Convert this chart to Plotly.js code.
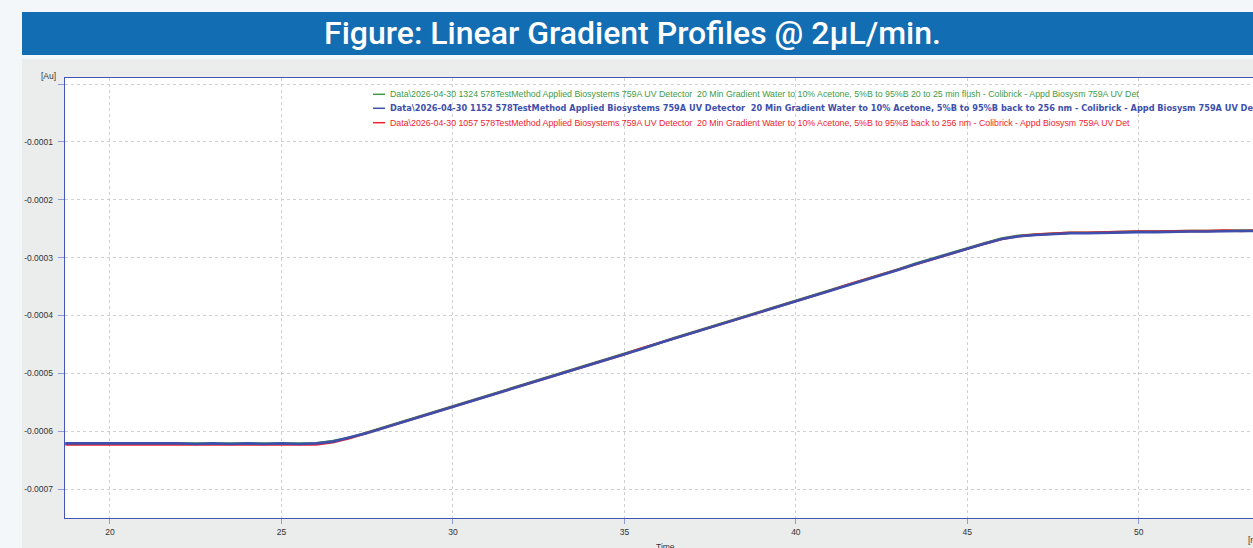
<!DOCTYPE html>
<html>
<head>
<meta charset="utf-8">
<script src="https://cdn.plot.ly/plotly-3.0.1.min.js"></script>
<style>html,body{margin:0;padding:0;background:#f4f7fa;}#chart{width:1253px;height:548px;}</style>
</head>
<body>
<div id="chart"></div>
<script>
// ---- data ----
const chartTitle = "Figure: Linear Gradient Profiles @ 2μL/min.";
const xTitle = "Time";
const xUnit = "[min]";
const yUnit = "[Au]";
const xTickVals = [20, 25, 30, 35, 40, 45, 50];
const yTickVals = [-0.0007, -0.0006, -0.0005, -0.0004, -0.0003, -0.0002, -0.0001, 0];
const yTickText = ["-0.0007", "-0.0006", "-0.0005", "-0.0004", "-0.0003", "-0.0002", "-0.0001", ""];

const seriesNames = [
  "Data\\2026-04-30 1324 578TestMethod Applied Biosystems 759A UV Detector  20 Min Gradient Water to 10% Acetone, 5%B to 95%B 20 to 25 min flush - Colibrick - Appd Biosysm 759A UV Det",
  "Data\\2026-04-30 1152 578TestMethod Applied Biosystems 759A UV Detector  20 Min Gradient Water to 10% Acetone, 5%B to 95%B back to 256 nm - Colibrick - Appd Biosysm 759A UV Det",
  "Data\\2026-04-30 1057 578TestMethod Applied Biosystems 759A UV Detector  20 Min Gradient Water to 10% Acetone, 5%B to 95%B back to 256 nm - Colibrick - Appd Biosysm 759A UV Det"
];
const seriesColors = ["#3f9a45", "#3e4fab", "#f0222b"];

const time = [18.7, 19.0, 19.5, 20.0, 20.5, 21.0, 21.5, 22.0, 22.5, 23.0, 23.5, 24.0, 24.5, 25.0, 25.5, 26.0, 26.5, 27.0, 27.5, 28.0,
  28.5, 29.0, 29.5, 30.0, 30.5, 31.0, 31.5, 32.0, 32.5, 33.0, 33.5, 34.0, 34.5, 35.0, 35.5, 36.0, 36.5, 37.0, 37.5, 38.0,
  38.5, 39.0, 39.5, 40.0, 40.5, 41.0, 41.5, 42.0, 42.5, 43.0, 43.5, 44.0, 44.5, 45.0, 45.5, 46.0, 46.5, 47.0, 47.5, 48.0,
  48.5, 49.0, 49.5, 50.0, 50.5, 51.0, 51.5, 52.0, 52.5, 53.0, 53.5];

const greenAu = [-0.000621, -0.000622, -0.000621, -0.000621, -0.000622, -0.000621, -0.000622, -0.000621, -0.000622, -0.000622, -0.000621, -0.000622, -0.000621, -0.000622, -0.000621, -0.000621, -0.000617, -0.000611, -0.000602, -0.000593,
  -0.000584, -0.000575, -0.000566, -0.000557, -0.000548, -0.000539, -0.000530, -0.000521, -0.000511, -0.000502, -0.000493, -0.000484, -0.000475, -0.000466, -0.000457, -0.000448, -0.000438, -0.000429, -0.000420, -0.000411,
  -0.000402, -0.000392, -0.000383, -0.000374, -0.000365, -0.000356, -0.000347, -0.000338, -0.000329, -0.000320, -0.000310, -0.000301, -0.000292, -0.000283, -0.000275, -0.000267, -0.000262, -0.000260, -0.000258, -0.000257,
  -0.000257, -0.000256, -0.000256, -0.000255, -0.000255, -0.000254, -0.000254, -0.000254, -0.000253, -0.000253, -0.000253];

const blueAu = [-0.000621, -0.000621, -0.000620, -0.000621, -0.000620, -0.000621, -0.000621, -0.000621, -0.000622, -0.000621, -0.000622, -0.000621, -0.000622, -0.000621, -0.000622, -0.000621, -0.000618, -0.000611, -0.000603, -0.000594,
  -0.000585, -0.000576, -0.000567, -0.000558, -0.000549, -0.000540, -0.000531, -0.000521, -0.000512, -0.000503, -0.000494, -0.000485, -0.000476, -0.000467, -0.000458, -0.000448, -0.000439, -0.000430, -0.000421, -0.000412,
  -0.000403, -0.000393, -0.000384, -0.000375, -0.000366, -0.000357, -0.000348, -0.000339, -0.000330, -0.000321, -0.000311, -0.000302, -0.000293, -0.000284, -0.000276, -0.000268, -0.000263, -0.000261, -0.000259, -0.000258,
  -0.000258, -0.000257, -0.000257, -0.000256, -0.000256, -0.000255, -0.000255, -0.000255, -0.000254, -0.000254, -0.000254];

const redAu = [-0.000623, -0.000623, -0.000624, -0.000623, -0.000623, -0.000624, -0.000623, -0.000623, -0.000624, -0.000623, -0.000623, -0.000624, -0.000623, -0.000623, -0.000624, -0.000623, -0.000619, -0.000612, -0.000603, -0.000594,
  -0.000585, -0.000576, -0.000567, -0.000558, -0.000549, -0.000540, -0.000530, -0.000521, -0.000512, -0.000503, -0.000494, -0.000485, -0.000476, -0.000467, -0.000457, -0.000448, -0.000439, -0.000430, -0.000421, -0.000412,
  -0.000402, -0.000393, -0.000384, -0.000375, -0.000366, -0.000357, -0.000347, -0.000338, -0.000329, -0.000320, -0.000311, -0.000302, -0.000293, -0.000284, -0.000276, -0.000268, -0.000263, -0.000260, -0.000258, -0.000257,
  -0.000257, -0.000256, -0.000256, -0.000255, -0.000255, -0.000254, -0.000254, -0.000254, -0.000253, -0.000254, -0.000253];

// ---- layout geometry (pixels) ----
const W = 1253, H = 548;
const L = 65, R = 0, T = 78, B = 30;
const pw = W - L - R, ph = H - T - B;
const px = v => (v - L) / pw;           // pixel x -> paper x
const py = v => (H - B - v) / ph;       // pixel y -> paper y

const seriesData = [greenAu, blueAu, redAu];
const drawOrder = [0, 2, 1]; // green, red, blue on top
const widths = [2.4, 2.6, 2.4];

const traces = drawOrder.map(i => ({
  type: "scatter", mode: "lines", x: time, y: seriesData[i],
  name: seriesNames[i], line: {color: seriesColors[i], width: widths[i]},
  showlegend: false, hoverinfo: "skip"
}));

const tickFont = {family: "Liberation Sans, Arial, sans-serif", size: 8.5, color: "#333333"};
const axisBlue = "#4356b8";

const shapes = [
  {type: "rect", xref: "paper", yref: "paper", x0: px(22), x1: px(1260), y0: py(12), y1: py(55), fillcolor: "#136db3", line: {width: 0}, layer: "below"},
  {type: "rect", xref: "paper", yref: "paper", x0: px(22), x1: px(1260), y0: py(59), y1: py(560), fillcolor: "#ebecec", line: {width: 0}, layer: "below"},
  {type: "rect", xref: "paper", yref: "paper", x0: 0, x1: 1.01, y0: 0, y1: 1, fillcolor: "#ffffff", line: {width: 0}, layer: "below"}
];
const annotations = [
  {xref: "paper", yref: "paper", x: px(632), y: py(33), xanchor: "center", yanchor: "middle", showarrow: false,
   text: chartTitle, font: {family: "Roboto, sans-serif", size: 32, weight: 500, color: "#ffffff"}},
  {xref: "paper", yref: "paper", x: px(58), y: py(76), xanchor: "right", yanchor: "middle", showarrow: false,
   text: yUnit, font: tickFont},
  {xref: "paper", yref: "paper", x: px(665), y: py(540), xanchor: "center", yanchor: "top", showarrow: false,
   text: xTitle, font: tickFont},
  {xref: "paper", yref: "paper", x: px(1246), y: py(540), xanchor: "left", yanchor: "middle", showarrow: false,
   text: xUnit, font: tickFont}
];
const legendY = [94.3, 108.3, 122.7];
seriesNames.forEach((n, i) => {
  shapes.push({type: "line", xref: "paper", yref: "paper", x0: px(373), x1: px(385), y0: py(legendY[i]), y1: py(legendY[i]),
    line: {color: seriesColors[i], width: 1.5}});
  const bold = i === 1;
  annotations.push({xref: "paper", yref: "paper", x: px(388), y: py(legendY[i]), xanchor: "left", yanchor: "middle",
    showarrow: false, text: bold ? "<b>" + n + "</b>" : n,
    font: bold ? {family: "DejaVu Sans, sans-serif", size: 8.2, color: seriesColors[i]}
               : {family: "Liberation Sans, Arial, sans-serif", size: 8.8, color: seriesColors[i]}});
});

const layout = {
  width: W, height: H,
  margin: {l: L, r: R, t: T, b: B, pad: 0},
  paper_bgcolor: "#f4f7fa", plot_bgcolor: "rgba(0,0,0,0)",
  showlegend: false,
  xaxis: {range: [18.688, 53.33], tickvals: xTickVals, ticktext: xTickVals.map(String),
    showgrid: true, gridcolor: "#cfcfcf", griddash: "dot", gridwidth: 1, zeroline: false,
    showline: true, linecolor: axisBlue, linewidth: 1.3, mirror: true,
    ticks: "outside", ticklen: 5, tickcolor: "#8d9bd6", tickfont: tickFont},
  yaxis: {range: [-0.00075, 0.0000104], tickvals: yTickVals, ticktext: yTickText,
    showgrid: true, gridcolor: "#cfcfcf", griddash: "dot", gridwidth: 1, zeroline: false,
    showline: true, linecolor: axisBlue, linewidth: 1.3, ticklabelstandoff: 3,
    ticks: "outside", ticklen: 6, tickcolor: "#8d9bd6", tickfont: tickFont},
  shapes: shapes, annotations: annotations
};

Plotly.newPlot("chart", traces, layout, {displayModeBar: false, staticPlot: true});
</script>
</body>
</html>
